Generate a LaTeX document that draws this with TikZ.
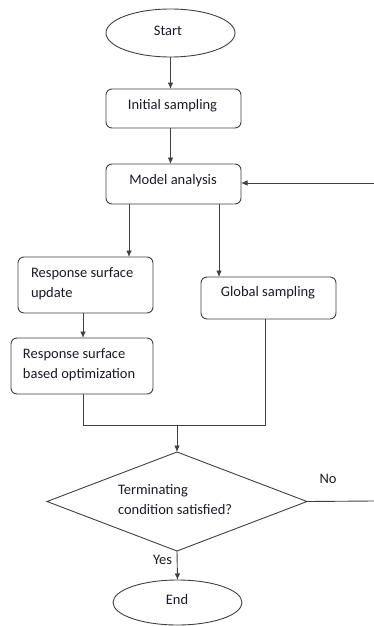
\documentclass[tikz,border=0pt]{standalone}
\usepackage{fontspec}
\setmainfont{Carlito}
\usetikzlibrary{arrows.meta,shapes.geometric}
\definecolor{linec}{HTML}{404040}
\definecolor{txtc}{HTML}{1A1A2A}
\begin{document}
\begin{tikzpicture}[x=1pt,y=-1pt,
  every node/.style={inner sep=0pt,outer sep=0pt},
  lbl/.style={font=\fontsize{14.5}{20}\selectfont,text=txtc},
  procbox/.style={draw=linec,line width=0.9pt,rounded corners=6pt,fill=white},
  term/.style={draw=linec,line width=0.9pt,ellipse},
  conn/.style={draw=linec,line width=0.9pt},
  arr/.style={conn,-{Latex[length=6.5pt,width=5.5pt]}}]
\useasboundingbox (0,0) rectangle (374,626);
% shapes
\node[term,minimum width=129pt,minimum height=48pt] (start) at (170.5,33) {};
\node[procbox,minimum width=135pt,minimum height=39pt] (init) at (173.5,108.5) {};
\node[procbox,minimum width=135pt,minimum height=40pt] (model) at (173.5,184) {};
\node[procbox,minimum width=135pt,minimum height=56pt] (rsu) at (85.5,285) {};
\node[procbox,minimum width=135pt,minimum height=42pt] (glob) at (268.5,298) {};
\node[procbox,minimum width=142pt,minimum height=56pt] (rso) at (82,366) {};
\node[draw=linec,line width=0.9pt,diamond,minimum width=260pt,minimum height=99pt,aspect=2.6] (dec) at (177,501.5) {};
\node[term,minimum width=129pt,minimum height=45pt] (end) at (177.5,602.5) {};
% texts
\node[lbl] (tstart) at (168,31) {Start};
\node[lbl] (tinit) at (172.5,106) {Initial sampling};
\node[lbl] (tmodel) at (173,181) {Model analysis};
\node[lbl,align=left,anchor=west] (trsu) at (31,284) {Response surface\\update};
\node[lbl] (tglob) at (268,293) {Global sampling};
\node[lbl,align=left,anchor=west] (trso) at (23,365) {Response surface\\based optimization};
\node[lbl,align=left,anchor=west] (tdec) at (118,500) {Terminating\\condition satisfied?};
\node[lbl] (tend) at (177,600) {End};
\node[lbl] (tyes) at (162.5,560) {Yes};
\node[lbl] (tno) at (328,479) {No};
% helper coordinates
\coordinate (join) at (177,425);
\coordinate (rsoj) at (83,425);
\coordinate (globj) at (265,425);
\coordinate (fbin) at (374,183);
\coordinate (fbout) at (374,501);
% connectors
\draw[arr] (start.south) -- (start.south |- init.north);
\draw[arr] (init.south -| start.south) -- (start.south |- model.north);
\draw[arr] (129,204) -- (129,257);
\draw[arr] (219,204) -- (219,277);
\draw[arr] (83,313) -- (83,338);
\draw[conn] (rso.south -| rsoj) -- (rsoj) -- (globj) -- (glob.south -| globj);
\draw[arr] (join) -- (dec.north);
\draw[arr] (dec.south) -- (end.north);
\draw[conn] (dec.east) -- (fbout);
\draw[arr] (fbin) -- (model.east |- fbin);
\end{tikzpicture}
\end{document}
